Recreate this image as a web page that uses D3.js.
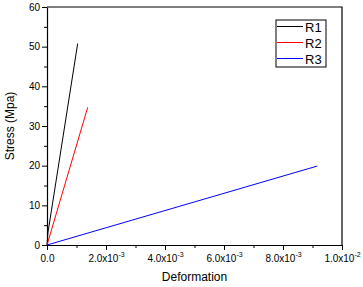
<!DOCTYPE html>
<html>
<head>
<meta charset="utf-8">
<script src="https://d3js.org/d3.v7.min.js"></script>
<style>
  body { margin: 0; background: #fff; }
  text { font-family: "Liberation Sans", Arial, sans-serif; }
</style>
</head>
<body>
<div id="chart"></div>
<script>
var seriesNames = ["R1", "R2", "R3"]
var seriesColors = ["#000000", "#ff0000", "#0000ff"]
var r1 = [[0, 0], [0.00003, 3], [0.00104, 50.8]]
var r2 = [[0, 0], [0.00138, 34.7]]
var r3 = [[0, 0], [0.00916, 19.9]]
var xTicks = [0, 0.002, 0.004, 0.006, 0.008, 0.01]
var xTickLabels = ["0.0", "2.0x10|-3", "4.0x10|-3", "6.0x10|-3", "8.0x10|-3", "1.0x10|-2"]
var yTicks = [0, 10, 20, 30, 40, 50, 60]

var width = 363,
    height = 287,
    margin = {top: 7, right: 21, bottom: 42, left: 47}

var svg = d3.select("#chart")
  .append("svg")
    .attr("width", width)
    .attr("height", height)

var x = d3.scaleLinear()
  .domain([0, 0.01])
  .range([margin.left, width - margin.right])

var y = d3.scaleLinear()
  .domain([0, 60])
  .range([height - margin.bottom, margin.top])

// minor ticks
svg.append("g")
  .attr("transform", "translate(0," + y(0) + ")")
  .call(d3.axisBottom(x).tickValues(d3.range(0.001, 0.01, 0.002)).tickSize(3).tickFormat(""))
  .call(function(g) { g.select(".domain").remove() })
svg.append("g")
  .attr("transform", "translate(" + x(0) + ",0)")
  .call(d3.axisLeft(y).tickValues(d3.range(5, 60, 10)).tickSize(3).tickFormat(""))
  .call(function(g) { g.select(".domain").remove() })

// major x axis
var gx = svg.append("g")
  .attr("transform", "translate(0," + y(0) + ")")
  .call(d3.axisBottom(x).tickValues(xTicks).tickSize(5).tickSizeOuter(0).tickFormat(""))
gx.selectAll(".tick").each(function(d, i) {
  var parts = xTickLabels[i].split("|")
  var t = d3.select(this).append("text")
    .attr("y", 17)
    .attr("fill", "#000")
    .style("font-size", "10px")
    .style("text-anchor", "middle")
  t.append("tspan").text(parts[0])
  if (parts[1]) {
    t.append("tspan").text(parts[1])
      .attr("dy", -5)
      .style("font-size", "7px")
  }
})

// major y axis
svg.append("g")
  .attr("transform", "translate(" + x(0) + ",0)")
  .call(d3.axisLeft(y).tickValues(yTicks).tickSize(5).tickSizeOuter(0))
  .selectAll("text")
    .style("font-size", "10px")
    .attr("x", -7)

svg.selectAll(".domain").attr("stroke", "#000").attr("stroke-width", 1.2)
svg.selectAll(".tick line").attr("stroke", "#000")

// frame top & right
svg.append("path")
  .attr("d", "M" + x(0) + "," + y(60) + "H" + x(0.01) + "V" + y(0))
  .attr("fill", "none")
  .attr("stroke", "#000")
  .attr("stroke-width", 1.2)

var line = d3.line()
  .x(function(d) { return x(d[0]) })
  .y(function(d) { return y(d[1]) })

var allSeries = [r1, r2, r3]
svg.selectAll("mySeries")
  .data(allSeries)
  .enter()
  .append("path")
    .attr("d", line)
    .attr("fill", "none")
    .attr("stroke", function(d, i) { return seriesColors[i] })
    .attr("stroke-width", 1)

// axis titles
svg.append("text")
  .attr("x", (x(0) + x(0.01)) / 2)
  .attr("y", 281)
  .style("text-anchor", "middle")
  .style("font-size", "12px")
  .text("Deformation")

svg.append("text")
  .attr("transform", "translate(14," + (y(0) + y(60)) / 2 + ")rotate(-90)")
  .style("text-anchor", "middle")
  .style("font-size", "12px")
  .text("Stress (Mpa)")

// legend
var legend = svg.append("g")
legend.append("rect")
  .attr("x", 276)
  .attr("y", 20)
  .attr("width", 50)
  .attr("height", 47)
  .attr("fill", "#fff")
  .attr("stroke", "#000")
  .attr("stroke-width", 1)

seriesNames.forEach(function(name, i) {
  var ly = 26.5 + i * 16
  legend.append("line")
    .attr("x1", 277).attr("x2", 303)
    .attr("y1", ly).attr("y2", ly)
    .attr("stroke", seriesColors[i])
    .attr("stroke-width", 1)
  legend.append("text")
    .attr("x", 305)
    .attr("y", ly + 5)
    .style("font-size", "13px")
    .text(name)
})
</script>
</body>
</html>
